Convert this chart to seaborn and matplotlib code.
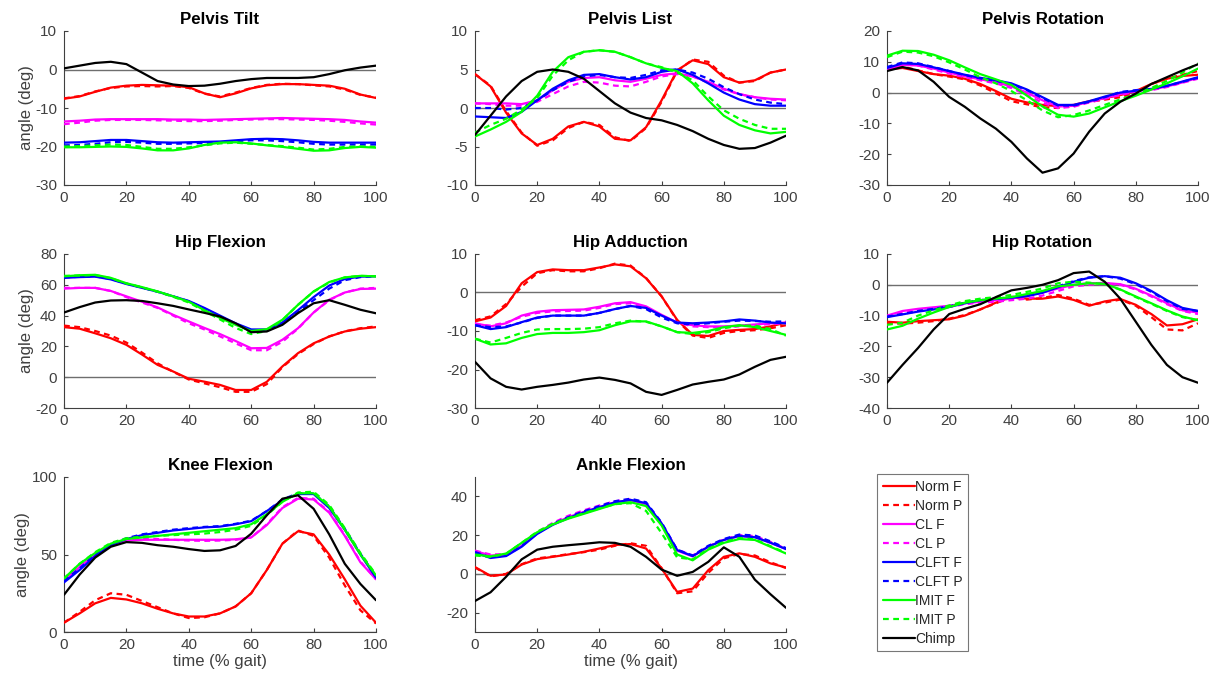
import numpy as np
import pandas as pd
import matplotlib
matplotlib.use("Agg")
import matplotlib.pyplot as plt
import seaborn as sns

# ---------------- data (gait cycle sampled every 5 %) ----------------
GAIT = [0, 5, 10, 15, 20, 25, 30, 35, 40, 45, 50, 55, 60, 65, 70, 75, 80, 85, 90, 95, 100]

SERIES = ["Norm F", "Norm P", "CL F", "CL P", "CLFT F", "CLFT P", "IMIT F", "IMIT P", "Chimp"]

# Pelvis Tilt
pt_norm_f = [-7.6,-7.0,-5.8,-4.7,-4.2,-4.0,-4.1,-4.2,-4.6,-6.2,-7.2,-6.2,-4.9,-4.1,-3.8,-3.8,-4.0,-4.2,-5.0,-6.5,-7.4]
pt_norm_p = [-7.5,-6.9,-5.7,-4.8,-4.4,-4.3,-4.4,-4.3,-4.8,-6.3,-7.0,-6.0,-4.8,-4.0,-3.7,-3.8,-4.1,-4.4,-5.2,-6.6,-7.3]
pt_cl_f = [-13.5,-13.3,-13.0,-12.9,-12.9,-12.9,-12.9,-13.0,-13.0,-13.1,-13.0,-12.9,-12.8,-12.7,-12.6,-12.7,-12.8,-12.9,-13.1,-13.5,-13.8]
pt_cl_p = [-14.2,-13.8,-13.3,-13.1,-13.1,-13.1,-13.2,-13.3,-13.4,-13.4,-13.3,-13.1,-13.0,-12.9,-12.9,-13.0,-13.1,-13.3,-13.6,-14.0,-14.3]
pt_clft_f = [-19.0,-18.9,-18.6,-18.3,-18.3,-18.6,-18.9,-19.0,-18.9,-18.8,-18.7,-18.4,-18.1,-18.0,-18.1,-18.4,-18.8,-19.0,-19.0,-19.0,-19.0]
pt_clft_p = [-19.7,-19.6,-19.3,-18.9,-18.8,-19.0,-19.3,-19.3,-19.2,-19.1,-18.9,-18.6,-18.4,-18.4,-18.6,-18.9,-19.3,-19.5,-19.5,-19.5,-19.5]
pt_imit_f = [-20.2,-20.2,-20.1,-20.0,-20.1,-20.5,-21.0,-21.0,-20.5,-19.6,-19.0,-18.9,-19.2,-19.7,-20.1,-20.6,-21.1,-21.0,-20.4,-20.1,-20.3]
pt_imit_p = [-20.0,-19.9,-19.7,-19.5,-19.6,-20.1,-20.6,-20.6,-20.2,-19.7,-19.2,-19.0,-19.3,-19.6,-19.9,-20.3,-20.8,-20.6,-20.1,-20.0,-20.1]
pt_chimp = [0.3,1.0,1.7,2.0,1.4,-0.8,-3.0,-3.9,-4.3,-4.2,-3.7,-3.0,-2.5,-2.2,-2.2,-2.2,-2.0,-1.2,-0.2,0.5,1.0]

# Pelvis List
pl_norm_f = [4.4,2.8,-0.6,-3.3,-4.8,-4.0,-2.4,-1.8,-2.4,-4.0,-4.2,-2.5,1.0,4.9,6.2,5.7,4.0,3.3,3.6,4.6,5.0]
pl_norm_p = [4.4,2.9,-0.4,-3.2,-4.9,-4.2,-2.6,-1.8,-2.2,-3.8,-4.3,-2.6,0.8,4.8,6.3,6.0,4.2,3.3,3.5,4.6,5.0]
pl_cl_f = [0.6,0.6,0.6,0.5,1.0,2.3,3.4,3.9,4.0,3.6,3.4,3.8,4.3,4.5,4.1,3.4,2.5,1.8,1.4,1.2,1.1]
pl_cl_p = [0.6,0.5,0.3,0.3,0.8,1.8,2.8,3.4,3.3,2.9,2.8,3.4,4.1,4.4,4.1,3.3,2.4,1.8,1.4,1.1,1.0]
pl_clft_f = [-1.1,-1.2,-1.3,-0.5,1.0,2.5,3.6,4.3,4.4,4.0,3.7,4.0,4.7,5.0,4.3,3.2,2.0,1.1,0.5,0.3,0.3]
pl_clft_p = [0.0,0.0,-0.2,0.0,1.0,2.3,3.4,4.1,4.3,4.0,3.9,4.3,4.9,5.0,4.6,3.8,2.7,1.8,1.1,0.7,0.5]
pl_imit_f = [-3.7,-2.8,-1.8,-0.5,1.6,4.7,6.6,7.3,7.5,7.3,6.6,5.8,5.2,4.8,3.2,1.0,-1.0,-2.2,-2.9,-3.3,-3.1]
pl_imit_p = [-3.2,-2.2,-1.4,-0.2,1.3,4.2,6.2,7.3,7.5,7.3,6.6,5.8,5.3,4.6,3.6,1.5,-0.3,-1.4,-2.2,-2.7,-2.7]
pl_chimp = [-3.5,-1.0,1.5,3.5,4.7,5.0,4.7,3.8,2.2,0.6,-0.6,-1.3,-1.6,-2.2,-3.0,-4.0,-4.8,-5.3,-5.2,-4.5,-3.6]

# Pelvis Rotation
pr_norm_f = [7.5,8.0,7.0,6.0,5.5,4.5,2.8,0.5,-2.0,-3.2,-4.0,-4.4,-4.0,-2.8,-1.8,-0.8,0.5,2.8,4.5,5.4,5.8]
pr_norm_p = [8.0,8.5,7.2,6.0,5.2,4.3,2.3,-0.2,-2.8,-3.8,-4.8,-5.0,-4.2,-3.0,-2.3,-1.5,0.0,2.8,4.5,5.8,7.0]
pr_cl_f = [7.5,9.0,8.8,7.8,6.5,5.3,4.3,3.4,2.0,0.0,-2.5,-4.5,-4.3,-3.0,-1.8,-0.5,0.5,1.0,2.0,3.3,4.8]
pr_cl_p = [7.8,9.2,8.8,7.5,6.2,5.0,4.0,3.0,1.5,-0.8,-3.3,-5.0,-4.6,-3.2,-2.0,-0.8,0.3,0.8,1.8,3.2,4.5]
pr_clft_f = [8.0,9.5,9.3,8.2,7.0,5.8,4.8,4.0,3.0,1.0,-1.5,-4.0,-4.0,-2.8,-1.3,0.0,0.6,1.2,2.2,3.6,5.0]
pr_clft_p = [8.3,9.8,9.5,8.3,7.0,5.7,4.6,3.8,2.8,0.8,-1.8,-4.2,-4.2,-3.0,-1.5,0.2,0.8,1.3,2.2,3.5,4.8]
pr_imit_f = [12.0,13.6,13.5,12.3,10.5,8.2,6.0,4.3,2.5,-1.0,-4.5,-7.2,-7.8,-6.8,-4.8,-2.8,-1.0,1.0,3.0,5.3,7.8]
pr_imit_p = [11.5,13.3,13.0,11.8,9.8,7.5,5.0,3.0,0.5,-2.5,-5.8,-8.0,-7.3,-5.8,-4.0,-2.2,-0.5,1.5,3.8,6.5,9.5]
pr_chimp = [7.0,8.3,7.2,3.5,-1.4,-4.6,-8.4,-11.7,-16.0,-21.4,-26.0,-24.6,-19.8,-12.7,-6.8,-3.0,-0.3,2.8,5.0,7.2,9.2]

# Hip Flexion
hf_norm_f = [32.5,31.5,28.5,25.3,21.0,14.7,8.0,3.7,-1.0,-2.9,-5.0,-8.3,-8.3,-3.0,7.0,15.6,22.0,26.4,29.7,31.5,32.5]
hf_norm_p = [33.5,32.5,30.0,27.0,22.5,16.0,9.0,3.5,-1.5,-4.0,-6.5,-9.5,-9.5,-4.5,6.5,15.0,21.5,26.5,29.8,31.8,33.0]
hf_cl_f = [57.5,58.0,58.0,56.0,52.5,49.0,45.3,40.5,36.2,32.0,28.0,23.5,18.8,19.0,24.3,31.8,42.0,50.3,55.0,57.3,57.5]
hf_cl_p = [58.0,58.0,58.0,56.0,52.0,48.5,45.0,40.0,35.0,31.0,26.5,22.0,17.5,17.5,23.0,31.5,42.0,50.0,55.0,57.5,58.0]
hf_clft_f = [64.5,65.0,65.3,63.5,60.5,58.0,55.5,52.5,49.5,45.0,40.0,35.0,31.0,31.0,35.5,43.5,52.0,59.5,63.8,65.3,65.5]
hf_clft_p = [64.8,65.2,65.5,63.8,60.8,58.2,55.5,52.5,49.3,44.5,39.5,34.5,30.5,30.2,34.5,42.5,50.0,57.5,63.0,65.0,65.5]
hf_imit_f = [65.5,66.2,66.5,64.5,61.0,58.5,55.7,52.5,49.0,43.5,38.5,34.0,30.0,31.2,37.3,47.0,55.7,61.8,64.8,65.8,65.5]
hf_imit_p = [65.8,66.0,66.3,64.3,60.8,58.3,55.5,52.2,48.5,43.0,37.5,32.0,28.0,30.0,37.0,47.0,55.5,61.5,64.8,65.8,65.5]
hf_chimp = [42.0,45.5,48.5,49.8,50.0,49.5,48.0,46.3,44.0,41.8,39.4,35.0,29.2,29.7,34.0,41.6,48.0,50.0,47.0,43.8,41.5]

# Hip Adduction
ha_norm_f = [-7.5,-6.5,-3.5,2.4,5.3,6.0,5.8,5.8,6.5,7.3,6.8,3.7,-1.0,-7.1,-11.0,-11.3,-10.0,-9.7,-9.5,-8.8,-7.8]
ha_norm_p = [-7.2,-6.2,-3.0,1.5,5.0,5.8,5.5,5.5,6.3,7.5,7.0,3.8,-1.0,-7.3,-11.2,-11.8,-10.5,-10.0,-9.8,-9.3,-8.5]
ha_cl_f = [-8.0,-8.8,-8.0,-6.0,-5.0,-4.6,-4.5,-4.4,-3.7,-2.8,-2.5,-3.6,-5.8,-7.8,-8.5,-8.8,-8.8,-8.6,-8.3,-8.0,-7.8]
ha_cl_p = [-8.3,-8.6,-7.8,-6.3,-5.3,-4.9,-4.8,-4.7,-4.0,-3.0,-2.8,-3.8,-6.0,-7.8,-8.8,-9.0,-9.0,-8.8,-8.5,-8.2,-8.0]
ha_clft_f = [-8.5,-9.5,-9.0,-7.7,-6.5,-6.0,-6.0,-6.0,-5.3,-4.3,-3.5,-4.0,-6.0,-7.8,-8.0,-7.8,-7.5,-7.0,-7.3,-7.8,-8.0]
ha_clft_p = [-8.5,-9.0,-8.8,-7.8,-6.6,-6.0,-6.0,-6.0,-5.3,-4.3,-3.5,-4.3,-6.5,-8.0,-8.3,-8.0,-7.6,-7.3,-7.4,-7.6,-7.5]
ha_imit_f = [-12.0,-13.5,-13.2,-11.8,-10.8,-10.5,-10.5,-10.3,-9.8,-8.5,-7.5,-7.5,-8.8,-10.3,-10.5,-10.0,-9.0,-8.5,-9.0,-10.0,-11.0]
ha_imit_p = [-12.0,-13.0,-11.8,-10.5,-9.6,-9.5,-9.5,-9.4,-9.0,-8.0,-7.3,-7.6,-8.8,-10.3,-10.8,-10.3,-9.3,-8.6,-8.6,-9.5,-11.2]
ha_chimp = [-18.0,-22.3,-24.5,-25.2,-24.5,-24.0,-23.4,-22.6,-22.1,-22.7,-23.6,-25.8,-26.6,-25.3,-23.9,-23.2,-22.6,-21.3,-19.3,-17.5,-16.7]

# Hip Rotation
hr_norm_f = [-12.0,-12.3,-11.8,-11.5,-11.2,-10.0,-8.0,-5.8,-3.9,-4.5,-4.5,-3.8,-4.9,-6.8,-5.4,-4.6,-6.5,-9.5,-13.2,-12.8,-11.2]
hr_norm_p = [-12.5,-12.6,-12.3,-11.8,-11.0,-9.8,-8.0,-6.0,-4.0,-4.8,-4.3,-3.3,-4.5,-6.5,-5.8,-4.8,-6.8,-10.5,-14.5,-14.8,-12.5]
hr_cl_f = [-10.0,-8.5,-7.8,-7.3,-6.8,-6.0,-5.5,-5.0,-4.5,-3.5,-2.5,-1.2,0.0,0.5,0.6,0.2,-1.3,-3.5,-6.0,-8.3,-9.0]
hr_cl_p = [-10.3,-9.0,-8.3,-7.8,-7.2,-6.3,-5.8,-5.5,-5.0,-4.5,-3.5,-2.0,-0.5,0.0,0.3,0.0,-1.5,-3.8,-6.3,-8.5,-9.5]
hr_clft_f = [-10.5,-9.6,-8.7,-8.0,-7.2,-6.0,-5.0,-4.6,-4.2,-3.7,-2.6,-0.8,1.0,2.3,2.8,2.3,0.5,-2.0,-5.0,-7.5,-8.5]
hr_clft_p = [-10.3,-9.5,-8.5,-7.8,-7.0,-5.8,-5.0,-4.5,-4.0,-3.5,-2.4,-0.5,1.2,2.4,2.8,2.0,0.2,-2.3,-5.3,-7.8,-8.5]
hr_imit_f = [-14.5,-13.3,-11.0,-9.0,-7.2,-5.8,-5.0,-4.5,-4.0,-3.0,-2.0,-0.5,0.0,0.5,0.3,-1.5,-3.8,-6.0,-8.3,-10.3,-11.5]
hr_imit_p = [-13.0,-12.3,-10.0,-8.3,-6.7,-5.3,-4.5,-4.0,-3.3,-2.3,-1.2,0.5,1.0,0.7,0.2,-1.6,-4.0,-6.2,-8.5,-10.5,-11.5]
hr_chimp = [-31.8,-26.0,-20.5,-14.5,-9.5,-7.8,-6.3,-4.0,-1.8,-1.0,0.0,1.5,3.8,4.3,1.0,-4.5,-12.0,-19.5,-26.0,-30.0,-31.8]

# Knee Flexion
kf_norm_f = [6.0,12.0,18.5,22.0,21.0,18.5,15.0,12.0,10.0,10.0,12.0,16.5,25.0,40.0,57.0,65.0,63.0,50.0,34.0,17.0,6.0]
kf_norm_p = [6.0,13.0,20.5,25.0,24.0,20.0,16.0,12.0,9.0,9.5,12.0,16.5,25.0,40.0,57.0,65.5,62.0,48.0,30.0,14.0,5.5]
kf_cl_f = [33.0,42.0,50.0,56.0,59.0,59.5,59.5,59.5,59.5,59.5,59.5,59.8,61.0,69.0,80.0,86.0,85.5,77.0,62.0,45.0,34.0]
kf_cl_p = [33.5,42.5,50.5,56.5,59.5,60.0,60.0,59.5,59.0,58.8,59.0,59.5,61.0,69.5,80.5,86.5,86.0,77.5,62.5,45.5,34.0]
kf_clft_f = [32.0,40.0,49.0,56.0,60.0,62.5,64.0,65.5,66.5,67.5,68.0,69.5,71.5,78.0,85.0,89.0,89.0,80.0,66.0,50.0,35.0]
kf_clft_p = [33.0,41.0,50.0,56.5,60.5,63.0,64.5,66.0,67.0,67.8,68.3,69.8,71.8,78.0,85.5,89.5,89.5,81.0,66.5,50.5,36.0]
kf_imit_f = [34.5,44.0,51.0,57.0,60.0,61.0,62.0,63.0,64.0,65.0,66.0,67.0,69.5,76.0,84.0,89.5,89.5,81.0,66.0,50.0,36.5]
kf_imit_p = [34.5,44.0,51.5,57.5,60.5,61.5,62.0,62.5,63.0,63.5,64.5,66.0,68.5,75.5,84.0,90.0,90.5,82.0,67.0,51.0,37.0]
kf_chimp = [24.0,37.0,48.0,55.0,58.0,57.5,56.0,55.0,53.5,52.3,52.7,55.5,63.4,75.3,86.0,88.2,79.5,63.0,44.0,31.0,20.5]

# Ankle Flexion
af_norm_f = [3.5,-1.0,-0.3,4.8,7.6,8.8,10.0,11.4,13.1,14.9,15.4,13.1,2.8,-9.3,-7.6,1.9,8.8,10.6,8.8,5.4,3.3]
af_norm_p = [3.3,-1.3,0.0,5.0,8.0,9.0,10.2,11.2,12.5,14.5,15.8,14.5,3.0,-10.0,-9.0,0.5,8.0,10.3,9.5,6.0,3.0]
af_cl_f = [11.8,9.5,9.8,14.5,21.0,25.5,29.3,32.0,34.5,37.0,38.0,36.0,25.5,12.0,9.0,14.0,17.5,19.5,19.0,16.0,12.8]
af_cl_p = [12.0,10.0,10.2,15.0,21.5,26.3,30.0,32.8,35.3,37.5,38.5,36.5,26.0,12.5,9.5,14.2,17.8,20.0,19.5,16.5,13.0]
af_clft_f = [11.0,8.2,9.2,14.0,20.6,25.3,28.8,31.7,34.4,36.9,38.2,36.5,26.1,12.3,9.2,14.0,17.5,19.6,18.9,16.1,12.8]
af_clft_p = [11.3,8.5,9.5,14.3,21.0,25.8,29.3,32.3,35.0,37.5,38.8,37.0,26.5,12.5,9.5,14.5,18.0,20.3,19.8,16.8,13.3]
af_imit_f = [10.0,9.0,10.5,16.0,21.5,25.5,28.5,31.0,33.5,36.0,37.0,35.0,25.0,10.0,7.0,12.5,16.0,18.0,17.5,14.0,10.5]
af_imit_p = [9.5,8.8,10.3,16.0,21.8,25.8,28.8,31.3,33.8,36.0,36.5,32.5,21.0,8.5,7.5,13.0,16.5,18.5,17.8,14.3,10.8]
af_chimp = [-14.0,-9.5,-1.5,7.5,12.5,14.0,14.8,15.5,16.3,16.0,14.0,8.8,2.2,-1.0,1.0,6.2,13.7,8.8,-3.0,-10.5,-17.5]

TITLES = ["Pelvis Tilt", "Pelvis List", "Pelvis Rotation",
          "Hip Flexion", "Hip Adduction", "Hip Rotation",
          "Knee Flexion", "Ankle Flexion"]
YLIMS = [(-30, 10), (-10, 10), (-30, 20), (-20, 80), (-30, 10), (-40, 10), (0, 100), (-30, 50)]
YTICKS = [[-30, -20, -10, 0, 10], [-10, -5, 0, 5, 10], [-30, -20, -10, 0, 10, 20],
          [-20, 0, 20, 40, 60, 80], [-30, -20, -10, 0, 10], [-40, -30, -20, -10, 0, 10],
          [0, 50, 100], [-20, 0, 20, 40]]
XTICKS = [0, 20, 40, 60, 80, 100]

PANELS = [
    [pt_norm_f, pt_norm_p, pt_cl_f, pt_cl_p, pt_clft_f, pt_clft_p, pt_imit_f, pt_imit_p, pt_chimp],
    [pl_norm_f, pl_norm_p, pl_cl_f, pl_cl_p, pl_clft_f, pl_clft_p, pl_imit_f, pl_imit_p, pl_chimp],
    [pr_norm_f, pr_norm_p, pr_cl_f, pr_cl_p, pr_clft_f, pr_clft_p, pr_imit_f, pr_imit_p, pr_chimp],
    [hf_norm_f, hf_norm_p, hf_cl_f, hf_cl_p, hf_clft_f, hf_clft_p, hf_imit_f, hf_imit_p, hf_chimp],
    [ha_norm_f, ha_norm_p, ha_cl_f, ha_cl_p, ha_clft_f, ha_clft_p, ha_imit_f, ha_imit_p, ha_chimp],
    [hr_norm_f, hr_norm_p, hr_cl_f, hr_cl_p, hr_clft_f, hr_clft_p, hr_imit_f, hr_imit_p, hr_chimp],
    [kf_norm_f, kf_norm_p, kf_cl_f, kf_cl_p, kf_clft_f, kf_clft_p, kf_imit_f, kf_imit_p, kf_chimp],
    [af_norm_f, af_norm_p, af_cl_f, af_cl_p, af_clft_f, af_clft_p, af_imit_f, af_imit_p, af_chimp],
]

# ---------------- styling ----------------
COLORS = ["#FF0000", "#FF0000", "#FF00FF", "#FF00FF", "#0000FF", "#0000FF", "#00FF00", "#00FF00", "#000000"]
DASH = (0, (2.6, 2.0))
STYLES = ["-", DASH, "-", DASH, "-", DASH, "-", DASH, "-"]

sns.set_theme(style="white")
plt.rcParams["font.family"] = ["Liberation Sans", "DejaVu Sans"]
plt.rcParams["axes.unicode_minus"] = False
AX_COLOR = "#404040"

fig = plt.figure(figsize=(12.24, 6.85), dpi=100)
W, H = 1224, 685
col_x = [(64, 376), (475, 786), (887, 1198)]
row_y = [(31, 185), (254, 408), (477, 632)]

for i, (title, data) in enumerate(zip(TITLES, PANELS)):
    r, c = divmod(i, 3)
    x0, x1 = col_x[c]
    y0, y1 = row_y[r]
    ax = fig.add_axes([x0 / W, 1 - y1 / H, (x1 - x0) / W, (y1 - y0) / H])
    ax.axhline(0, color="#6e6e6e", lw=1.0, zorder=1)
    for name, vals, col, ls in zip(SERIES, data, COLORS, STYLES):
        sns.lineplot(x=GAIT, y=vals, ax=ax, color=col, linestyle=ls, linewidth=1.6,
                     label=name, legend=False, zorder=3)
    ax.set_xlim(0, 100)
    ax.set_ylim(*YLIMS[i])
    ax.set_xticks(XTICKS)
    ax.set_yticks(YTICKS[i])
    ax.set_title(title, fontsize=12.2, fontweight="bold", pad=5, color="black")
    for s in ["top", "right"]:
        ax.spines[s].set_visible(False)
    for s in ["left", "bottom"]:
        ax.spines[s].set_color(AX_COLOR)
        ax.spines[s].set_linewidth(0.8)
    ax.tick_params(direction="in", length=3, width=0.8, colors=AX_COLOR,
                   labelsize=11, labelcolor=AX_COLOR, bottom=True, left=True)
    ax.tick_params(axis="y", pad=5)
    ax.tick_params(axis="x", pad=4)
    if c == 0:
        ax.set_ylabel("angle (deg)", fontsize=12, color=AX_COLOR, labelpad=1)
    if r == 2:
        ax.set_xlabel("time (% gait)", fontsize=12, color=AX_COLOR, labelpad=2)
    if i == 0:
        handles, labels = ax.get_legend_handles_labels()

leg = fig.legend(handles, labels, loc="upper left",
                 bbox_to_anchor=(877 / W, 1 - 474 / H), bbox_transform=fig.transFigure,
                 frameon=True, fancybox=False, fontsize=10, handlelength=2.3,
                 handletextpad=0.05, labelspacing=0.36, borderpad=0.4, borderaxespad=0)
leg.get_frame().set_edgecolor("#555555")
leg.get_frame().set_linewidth(0.8)

fig.savefig("out.png", dpi=100)
